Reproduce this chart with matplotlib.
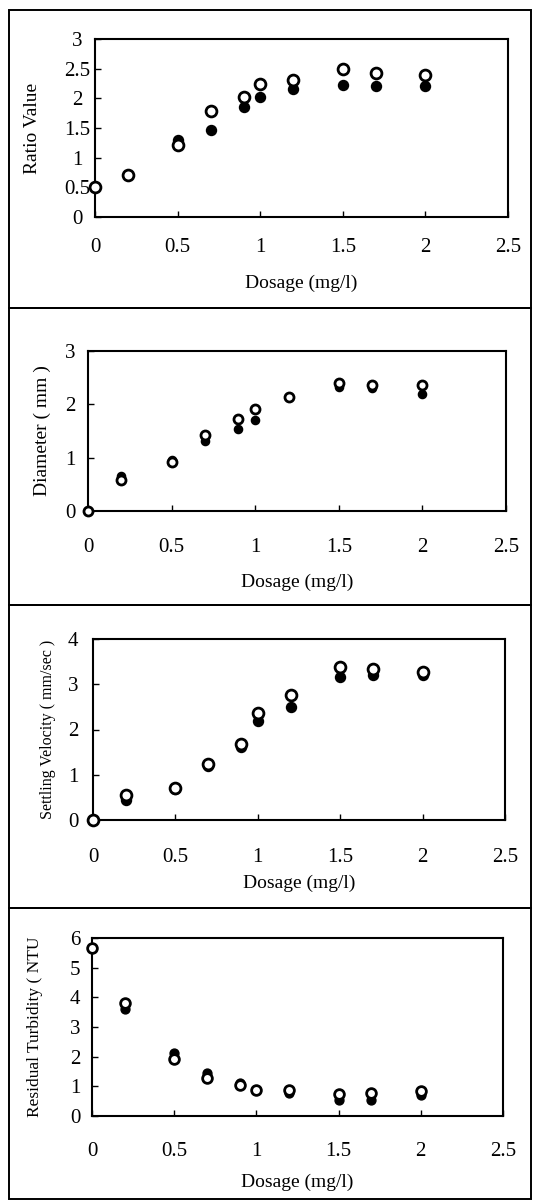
import matplotlib
matplotlib.use("Agg")
from matplotlib import pyplot as plt
from matplotlib.patches import Rectangle
from matplotlib.ticker import FuncFormatter

plt.rcParams['font.family'] = ['Liberation Serif', 'DejaVu Serif']

''' Data read off the scanned figure '''
dosage = [0, 0.2, 0.5, 0.7, 0.9, 1.0, 1.2, 1.5, 1.7, 2.0]

ratio_open = [0.5, 0.71, 1.21, 1.78, 2.03, 2.25, 2.31, 2.49, 2.42, 2.40]
ratio_filled = [0.5, 0.71, 1.29, 1.47, 1.85, 2.02, 2.16, 2.22, 2.20, 2.20]

diam_open = [0, 0.58, 0.91, 1.43, 1.72, 1.92, 2.13, 2.40, 2.37, 2.36]
diam_filled = [0, 0.65, 0.96, 1.31, 1.53, 1.70, 2.13, 2.32, 2.30, 2.20]

vel_open = [0, 0.55, 0.70, 1.24, 1.68, 2.36, 2.77, 3.39, 3.34, 3.28]
vel_filled = [0, 0.44, 0.68, 1.20, 1.62, 2.19, 2.49, 3.16, 3.21, 3.21]

turb_open = [5.65, 3.82, 1.91, 1.28, 1.03, 0.86, 0.86, 0.73, 0.77, 0.83]
turb_filled = [5.65, 3.59, 2.11, 1.45, 1.12, 0.86, 0.77, 0.53, 0.55, 0.72]

x_ticks = [0, 0.5, 1, 1.5, 2, 2.5]

''' Layout (pixels on a 534x1200 canvas) '''
W, H = 534, 1200
px = 0.72  # points per pixel at 100 dpi

panels = [
    # box = axes (left, right, top, bottom); frame = panel border (top, bottom)
    dict(yo=ratio_open, yf=ratio_filled, ylabel='Ratio Value', lsize=14,
         yticks=[0, 0.5, 1, 1.5, 2, 2.5, 3], ymax=3,
         box=(95, 508, 39, 217), ylab_x=33, xlab_y=283, xt=30, yt=77, ms=7.8,
         frame=(10, 308)),
    dict(yo=diam_open, yf=diam_filled, ylabel='Diameter ( mm )', lsize=14,
         yticks=[0, 1, 2, 3], ymax=3,
         box=(88, 506, 351, 511), ylab_x=42, xlab_y=582, xt=36, yt=70, ms=6.5,
         frame=(308, 605)),
    dict(yo=vel_open, yf=vel_filled, ylabel='Settling Velocity ( mm/sec )', lsize=11.5,
         yticks=[0, 1, 2, 3, 4], ymax=4,
         box=(93, 505, 639, 820), ylab_x=48, xlab_y=883, xt=37, yt=73, ms=7.8,
         frame=(605, 908)),
    dict(yo=turb_open, yf=turb_filled, ylabel='Residual Turbidity ( NTU', lsize=12.5,
         yticks=[0, 1, 2, 3, 4, 5, 6], ymax=6,
         box=(92, 503, 938, 1116), ylab_x=35, xlab_y=1182, xt=36, yt=75, ms=7.0,
         frame=(908, 1199)),
]

fmt = FuncFormatter(lambda v, pos: '%g' % v)

fig = plt.figure(figsize=(W / 100, H / 100), dpi=100)

for p in panels:
    l, r, t, b = p['box']
    ax = fig.add_axes([l / W, 1 - b / H, (r - l) / W, (b - t) / H])

    # outer frame around each panel
    ft, fb = p['frame']
    fig.add_artist(Rectangle((9 / W, 1 - fb / H), (531 - 9) / W, (fb - ft) / H,
                             transform=fig.transFigure, fill=False,
                             edgecolor='black', linewidth=1.4))

    ax.plot(dosage, p['yf'], 'o', color='black', ms=p['ms'] - 0.6,
            linestyle='none', zorder=3, clip_on=False)
    ax.plot(dosage, p['yo'], 'o', mfc='white', mec='black', mew=2.0, ms=p['ms'],
            linestyle='none', zorder=4, clip_on=False)

    ax.set_xlim(0, 2.5)
    ax.set_ylim(0, p['ymax'])
    ax.set_xticks(x_ticks)
    ax.set_yticks(p['yticks'])
    ax.xaxis.set_major_formatter(fmt)
    ax.yaxis.set_major_formatter(fmt)

    for s in ax.spines.values():
        s.set_linewidth(1.5)

    ax.tick_params(direction='in', length=4, width=1, labelsize=15,
                   top=False, right=False)
    ax.tick_params(axis='x', pad=p['xt'] * px)
    ax.tick_params(axis='y', pad=(l - p['yt']) * px)
    plt.setp(ax.get_xticklabels(), va='center')
    plt.setp(ax.get_yticklabels(), ha='center')

    ax.set_xlabel('Dosage (mg/l)', fontsize=14, va='center')
    ax.xaxis.set_label_coords(0.5, (b - p['xlab_y']) / (b - t))
    ax.set_ylabel(p['ylabel'], fontsize=p['lsize'], va='center')
    ax.yaxis.set_label_coords((p['ylab_x'] - l) / (r - l), 0.5)

fig.savefig('out.png', dpi=100)
